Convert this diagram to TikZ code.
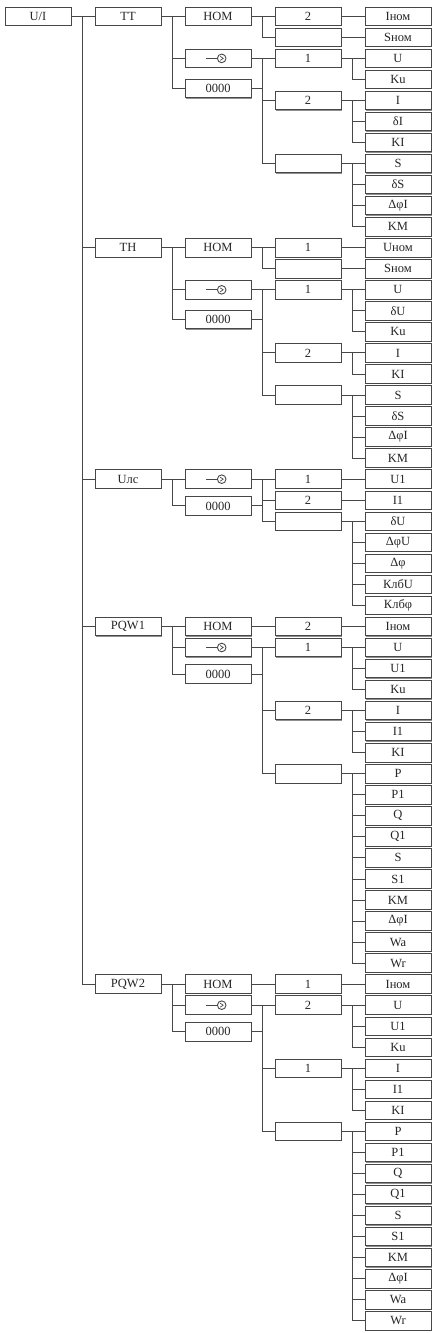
\documentclass[tikz,border=0pt]{standalone}
\usepackage{fontspec}
\setmainfont{Liberation Serif}
\usetikzlibrary{shadows}
\tikzset{
  wire/.style={draw=black!72, line width=0.9pt},
  box/.style={draw=black!72, line width=0.9pt, fill=white, minimum width=66pt, minimum height=18.5pt,
    inner sep=0pt, text=black!85, font=\fontsize{12.5}{14}\selectfont,
    drop shadow={shadow xshift=0.8pt, shadow yshift=-0.8pt, fill=black!55, opacity=0.8}},
}
\newcommand\lnk[2]{\draw[wire] (#1.east) -| ([xshift=-12pt]#2.west) -- (#2.west);}
\newcommand\symb[1]{%
  \draw[wire] ([xshift=-12pt]#1.center) -- ([xshift=-0.6pt]#1.center);
  \draw[wire] ([xshift=3.7pt]#1.center) circle (4.3pt);
  \draw[wire, line width=0.7pt] ([xshift=2.2pt,yshift=2pt]#1.center) -- ([xshift=5.2pt]#1.center) -- ([xshift=2.2pt,yshift=-2pt]#1.center);}
\newcommand\ry[1]{{16.3+21.04*#1}}
\begin{document}
\begin{tikzpicture}[x=1pt,y=-1pt]
\useasboundingbox (0,0) rectangle (436,1333);
% column 1
\node[box] (UI) at (38,\ry{0}) {U/I};
% column 2
\node[box] (TT) at (128,\ry{0}) {TT};
\node[box] (TH) at (128,\ry{11}) {TH};
\node[box] (Ulc) at (128,\ry{22}) {Uлс};
\node[box] (PQWa) at (128,\ry{29}) {PQW1};
\node[box] (PQWb) at (128,\ry{46}) {PQW2};
% column 3
\node[box] (tHOM) at (218,\ry{0}) {HOM};
\node[box] (tSym) at (218,\ry{2}) {};
\node[box] (tZ) at (218,88.5) {0000};
\node[box] (hHOM) at (218,\ry{11}) {HOM};
\node[box] (hSym) at (218,\ry{13}) {};
\node[box] (hZ) at (218,319.5) {0000};
\node[box] (uSym) at (218,\ry{22}) {};
\node[box] (uZ) at (218,505.9) {0000};
\node[box] (aHOM) at (218,\ry{29}) {HOM};
\node[box] (aSym) at (218,\ry{30}) {};
\node[box] (aZ) at (218,674.1) {0000};
\node[box] (bHOM) at (218,\ry{46}) {HOM};
\node[box] (bSym) at (218,\ry{47}) {};
\node[box] (bZ) at (218,1031.7) {0000};
% column 4
\node[box] (t2a) at (308,\ry{0}) {2};
\node[box] (te1) at (308,\ry{1}) {};
\node[box] (t1) at (308,\ry{2}) {1};
\node[box] (t2) at (308,\ry{4}) {2};
\node[box] (te2) at (308,\ry{7}) {};
\node[box] (h1a) at (308,\ry{11}) {1};
\node[box] (he1) at (308,\ry{12}) {};
\node[box] (h1) at (308,\ry{13}) {1};
\node[box] (h2) at (308,\ry{16}) {2};
\node[box] (he2) at (308,\ry{18}) {};
\node[box] (u1) at (308,\ry{22}) {1};
\node[box] (u2) at (308,\ry{23}) {2};
\node[box] (ue) at (308,\ry{24}) {};
\node[box] (a2a) at (308,\ry{29}) {2};
\node[box] (a1) at (308,\ry{30}) {1};
\node[box] (a2) at (308,\ry{33}) {2};
\node[box] (ae) at (308,\ry{36}) {};
\node[box] (b1a) at (308,\ry{46}) {1};
\node[box] (b2) at (308,\ry{47}) {2};
\node[box] (b1) at (308,\ry{50}) {1};
\node[box] (be) at (308,\ry{53}) {};
% column 5
\foreach \t [count=\i from 0] in {Iном,Sном,U,Ku,I,δI,KI,S,δS,ΔφI,KM,
  Uном,Sном,U,δU,Ku,I,KI,S,δS,ΔφI,KM,
  U1,I1,δU,ΔφU,Δφ,КлбU,Клбφ,
  Iном,U,U1,Ku,I,I1,KI,P,P1,Q,Q1,S,S1,KM,ΔφI,Wa,Wr,
  Iном,U,U1,Ku,I,I1,KI,P,P1,Q,Q1,S,S1,KM,ΔφI,Wa,Wr}
  \node[box] (L\i) at (398,\ry{\i}) {\t};
% symbols
\symb{tSym}\symb{hSym}\symb{uSym}\symb{aSym}\symb{bSym}
% junction coordinates for the 0000 boxes
\coordinate (tJ) at ([xshift=-12pt]t1.west);
\coordinate (hJ) at ([xshift=-12pt]h1.west);
\coordinate (uJ) at ([xshift=-12pt]u1.west);
\coordinate (aJ) at ([xshift=-12pt]a1.west);
\coordinate (bJ) at ([xshift=-12pt]b2.west);
\draw[wire] (tZ.east) -- (tZ.east -| tJ);
\draw[wire] (hZ.east) -- (hZ.east -| hJ);
\draw[wire] (uZ.east) -- (uZ.east -| uJ);
\draw[wire] (aZ.east) -- (aZ.east -| aJ);
\draw[wire] (bZ.east) -- (bZ.east -| bJ);
% trunk
\foreach \c in {TT,TH,Ulc,PQWa,PQWb} {\lnk{UI}{\c}}
% TT
\foreach \c in {tHOM,tSym,tZ} {\lnk{TT}{\c}}
\foreach \c in {t2a,te1} {\lnk{tHOM}{\c}}
\lnk{t2a}{L0}\lnk{te1}{L1}
\foreach \c in {t1,t2,te2} {\lnk{tSym}{\c}}
\foreach \c in {L2,L3} {\lnk{t1}{\c}}
\foreach \c in {L4,L5,L6} {\lnk{t2}{\c}}
\foreach \c in {L7,L8,L9,L10} {\lnk{te2}{\c}}
% TH
\foreach \c in {hHOM,hSym,hZ} {\lnk{TH}{\c}}
\foreach \c in {h1a,he1} {\lnk{hHOM}{\c}}
\lnk{h1a}{L11}\lnk{he1}{L12}
\foreach \c in {h1,h2,he2} {\lnk{hSym}{\c}}
\foreach \c in {L13,L14,L15} {\lnk{h1}{\c}}
\foreach \c in {L16,L17} {\lnk{h2}{\c}}
\foreach \c in {L18,L19,L20,L21} {\lnk{he2}{\c}}
% Ulc
\foreach \c in {uSym,uZ} {\lnk{Ulc}{\c}}
\foreach \c in {u1,u2,ue} {\lnk{uSym}{\c}}
\lnk{u1}{L22}\lnk{u2}{L23}
\foreach \c in {L24,L25,L26,L27,L28} {\lnk{ue}{\c}}
% PQW1
\foreach \c in {aHOM,aSym,aZ} {\lnk{PQWa}{\c}}
\lnk{aHOM}{a2a}\lnk{a2a}{L29}
\foreach \c in {a1,a2,ae} {\lnk{aSym}{\c}}
\foreach \c in {L30,L31,L32} {\lnk{a1}{\c}}
\foreach \c in {L33,L34,L35} {\lnk{a2}{\c}}
\foreach \c in {L36,L37,L38,L39,L40,L41,L42,L43,L44,L45} {\lnk{ae}{\c}}
% PQW2
\foreach \c in {bHOM,bSym,bZ} {\lnk{PQWb}{\c}}
\lnk{bHOM}{b1a}\lnk{b1a}{L46}
\foreach \c in {b2,b1,be} {\lnk{bSym}{\c}}
\foreach \c in {L47,L48,L49} {\lnk{b2}{\c}}
\foreach \c in {L50,L51,L52} {\lnk{b1}{\c}}
\foreach \c in {L53,L54,L55,L56,L57,L58,L59,L60,L61,L62} {\lnk{be}{\c}}
\end{tikzpicture}
\end{document}
